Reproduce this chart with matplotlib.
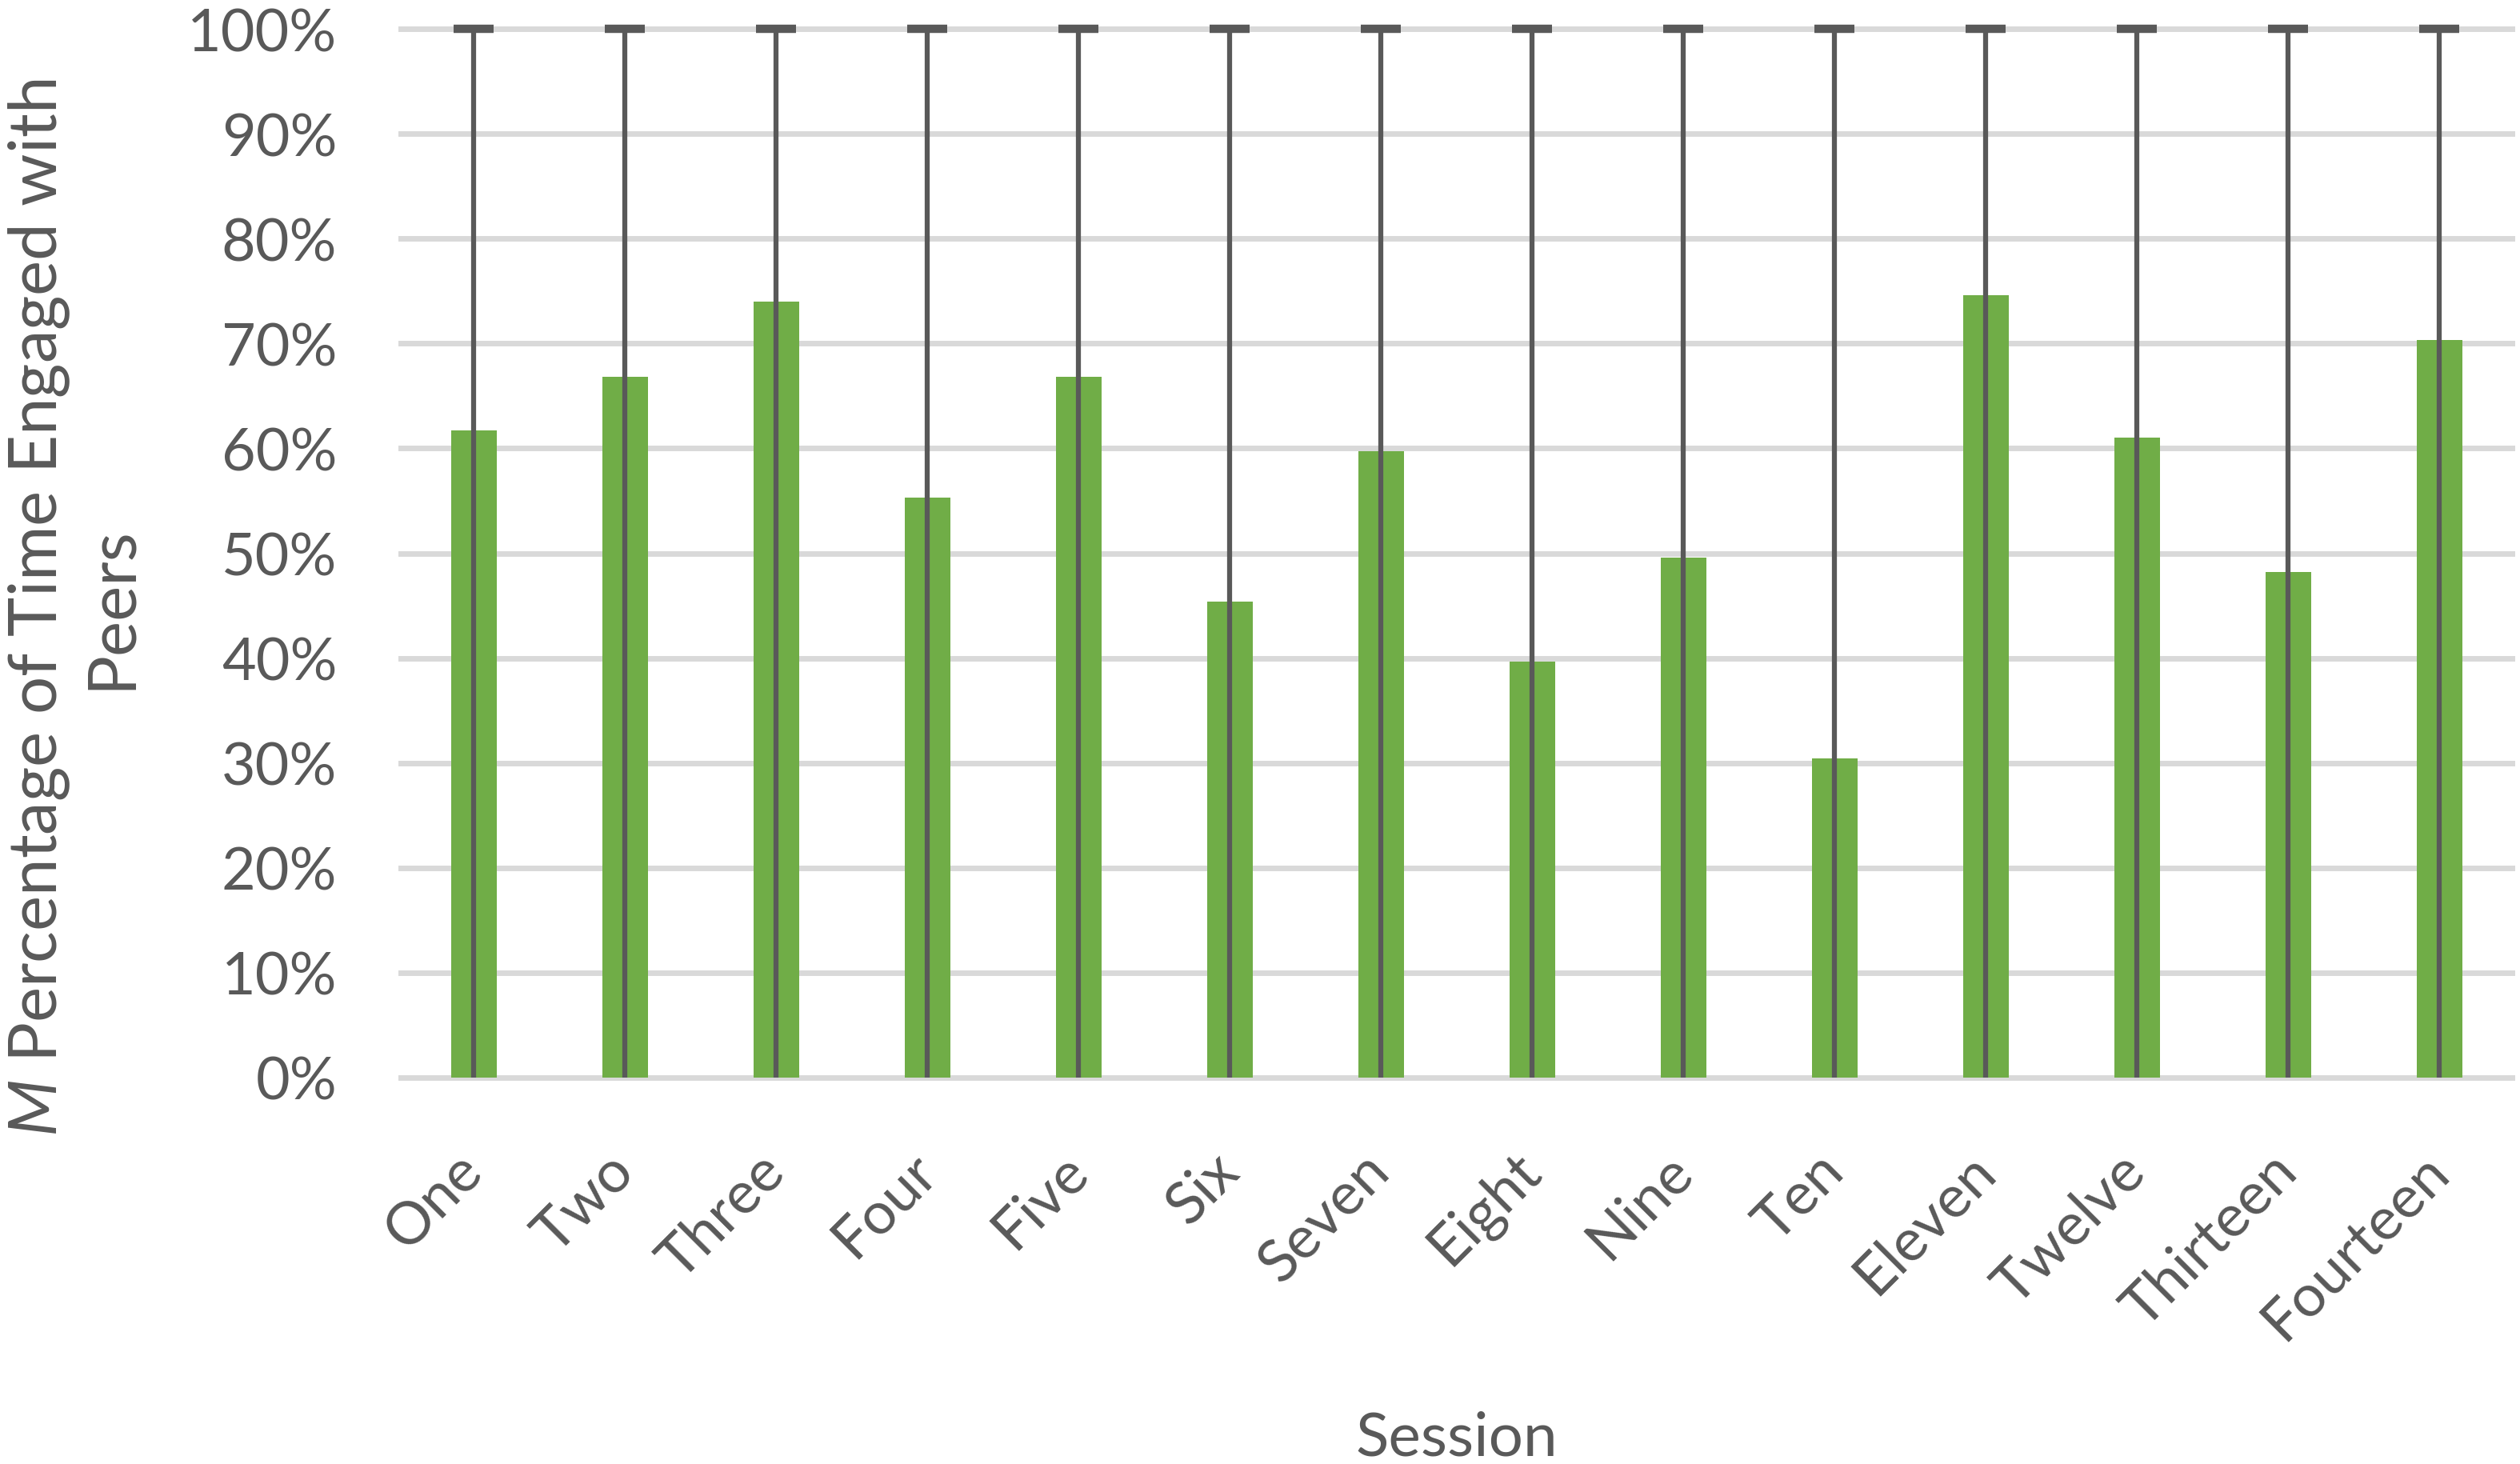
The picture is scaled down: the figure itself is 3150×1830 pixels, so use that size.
import matplotlib
matplotlib.use('Agg')
import matplotlib.pyplot as plt
import numpy as np

plt.rcParams['font.family'] = ['Lato', 'DejaVu Sans']
plt.rcParams['mathtext.fontset'] = 'custom'
plt.rcParams['mathtext.it'] = 'Lato:italic'
plt.rcParams['mathtext.rm'] = 'Lato'

## Data
sessions = ['One', 'Two', 'Three', 'Four', 'Five', 'Six', 'Seven', 'Eight',
            'Nine', 'Ten', 'Eleven', 'Twelve', 'Thirteen', 'Fourteen']
mean_pct = [61.7, 66.8, 74.0, 55.3, 66.8, 45.4, 59.7, 39.7,
            49.6, 30.4, 74.6, 61.0, 48.2, 70.3]
err_low = mean_pct                      # bars run down to 0%
err_high = [100 - v for v in mean_pct]  # and up to 100%
y_ticks = np.arange(0, 101, 10)

text_col = '#595959'
bar_col = '#70AD47'
grid_col = '#D9D9D9'

## Plot
fig = plt.figure(figsize=(31.5, 18.31), dpi=100, facecolor='w')
ax = fig.add_axes([0.158, 0.2595, 0.840, 0.7245])

x = np.arange(len(sessions))
ax.bar(x, mean_pct, width=0.3, color=bar_col, zorder=2)
eb = ax.errorbar(x, mean_pct, yerr=[err_low, err_high], fmt='none',
                 ecolor=text_col, elinewidth=4.5, capsize=18, capthick=7.5, zorder=3)
eb[1][0].set_visible(False)   # no cap at the bottom

ax.set_xlim(-0.5, len(sessions) - 0.5)
ax.set_ylim(-0.6, 100.6)
ax.set_yticks(y_ticks)
ax.set_yticklabels([f'{t}%' for t in y_ticks])
ax.yaxis.grid(True, color=grid_col, linewidth=5, zorder=0)
ax.set_axisbelow(True)
for s in ax.spines.values():
    s.set_visible(False)

ax.tick_params(axis='y', length=0, pad=55, labelsize=53, labelcolor=text_col)
ax.tick_params(axis='x', length=0, pad=70, labelsize=53, labelcolor=text_col)
ax.set_xticks(x)
ax.set_xticklabels(sessions, rotation=45, ha='right', va='center',
                   rotation_mode='anchor')

ax.set_xlabel('Session', fontsize=55, color=text_col, labelpad=55)
fig.text(0.0295, 0.585, '$M$ Percentage of Time Engaged with\nPeers',
         rotation=90, ha='center', va='center', multialignment='center',
         fontsize=60, color=text_col, linespacing=1.2)

plt.savefig('out.png', dpi=100)
